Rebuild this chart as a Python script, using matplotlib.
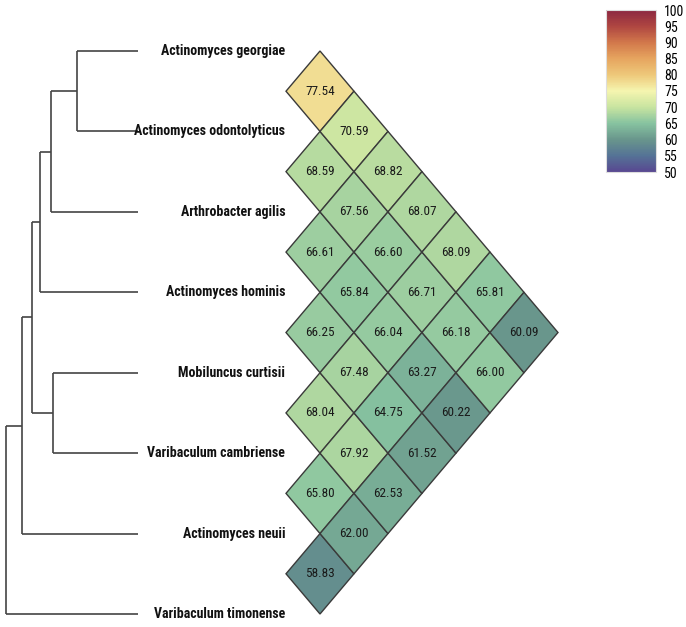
import numpy as np
import matplotlib.pyplot as plt
import matplotlib as mpl
from matplotlib.colors import LinearSegmentedColormap
from matplotlib.patches import Polygon

plt.rcParams['font.family'] = ['Roboto Condensed', 'Liberation Sans Narrow', 'Roboto', 'DejaVu Sans']

species = ['Actinomyces georgiae', 'Actinomyces odontolyticus', 'Arthrobacter agilis',
           'Actinomyces hominis', 'Mobiluncus curtisii', 'Varibaculum cambriense',
           'Actinomyces neuii', 'Varibaculum timonense']

# pairwise identity, listed by offset between species (1 = neighbours ... 7)
off1 = [77.54, 68.59, 66.61, 66.25, 68.04, 65.80, 58.83]
off2 = [70.59, 67.56, 65.84, 67.48, 67.92, 62.00]
off3 = [68.82, 66.60, 66.04, 64.75, 62.53]
off4 = [68.07, 66.71, 63.27, 61.52]
off5 = [68.09, 66.18, 60.22]
off6 = [65.81, 66.00]
off7 = [60.09]
offsets = [off1, off2, off3, off4, off5, off6, off7]

# tree: (child a, child b, height)  -- new nodes numbered from 8
merges = [(0, 1, 61), (8, 2, 87), (9, 3, 98), (4, 5, 85),
          (10, 11, 106), (12, 6, 116), (13, 7, 132)]

cbar_ticks = list(range(50, 101, 5))

cmap = LinearSegmentedColormap.from_list('muted_spectral', [
    (88/255, 72/255, 145/255), (85/255, 115/255, 150/255), (105/255, 150/255, 140/255),
    (135/255, 195/255, 160/255), (200/255, 228/255, 160/255), (245/255, 245/255, 175/255),
    (238/255, 200/255, 122/255), (230/255, 165/255, 95/255), (210/255, 120/255, 75/255),
    (175/255, 70/255, 65/255), (140/255, 40/255, 65/255)])
norm = mpl.colors.Normalize(vmin=50, vmax=100)

W, H = 686, 627
unit = 80.43          # pixels per leaf step
top = 51              # pixel y of first leaf
fig = plt.figure(figsize=(W/100, H/100), dpi=100)
ax = fig.add_axes([0, 0, 1, 1])
ax.set_xlim(0, W/unit)
ax.set_ylim((H - top)/unit, -top/unit)
ax.axis('off')

n = len(species)
tip_x = 138/unit
label_x = 286/unit
hw = 34/unit   # half width of a diamond
hh = 0.5

# ---- dendrogram
line_col = '#444444'
pos = {i: (tip_x, float(i)) for i in range(n)}
for k, (a, b, h) in enumerate(merges):
	nx = tip_x - h/unit
	ya, yb = pos[a][1], pos[b][1]
	for c in (a, b):
		ax.plot([pos[c][0], nx], [pos[c][1], pos[c][1]], color=line_col, lw=1.2, solid_capstyle='butt')
	ax.plot([nx, nx], [ya, yb], color=line_col, lw=1.2, solid_capstyle='butt')
	pos[n + k] = (nx, (ya + yb)/2)

for i, name in enumerate(species):
	ax.text(label_x - 0.01, i, name, ha='right', va='center', fontsize=10,
			fontweight='bold', color='#111111')

# ---- diamonds
for d, vals in enumerate(offsets, start=1):
	for i, v in enumerate(vals):
		j = i + d
		cx = label_x + hw*d
		cy = (i + j)/2
		pts = [(cx, cy - hh), (cx + hw, cy), (cx, cy + hh), (cx - hw, cy)]
		ax.add_patch(Polygon(pts, closed=True, facecolor=cmap(norm(v)),
							 edgecolor='#3a3a3a', lw=1.0))
		ax.text(cx, cy, '%.2f' % v, ha='center', va='center', fontsize=9.5, color='#1a1a1a')

# ---- colorbar
cax = fig.add_axes([606/W, 1 - 172/H, 50/W, 162/H])
sm = mpl.cm.ScalarMappable(norm=norm, cmap=cmap)
cb = fig.colorbar(sm, cax=cax, ticks=cbar_ticks)
cb.outline.set_edgecolor('#dddddd')
cax.tick_params(length=0, labelsize=10, pad=6)

plt.savefig('out.png', dpi=100)
